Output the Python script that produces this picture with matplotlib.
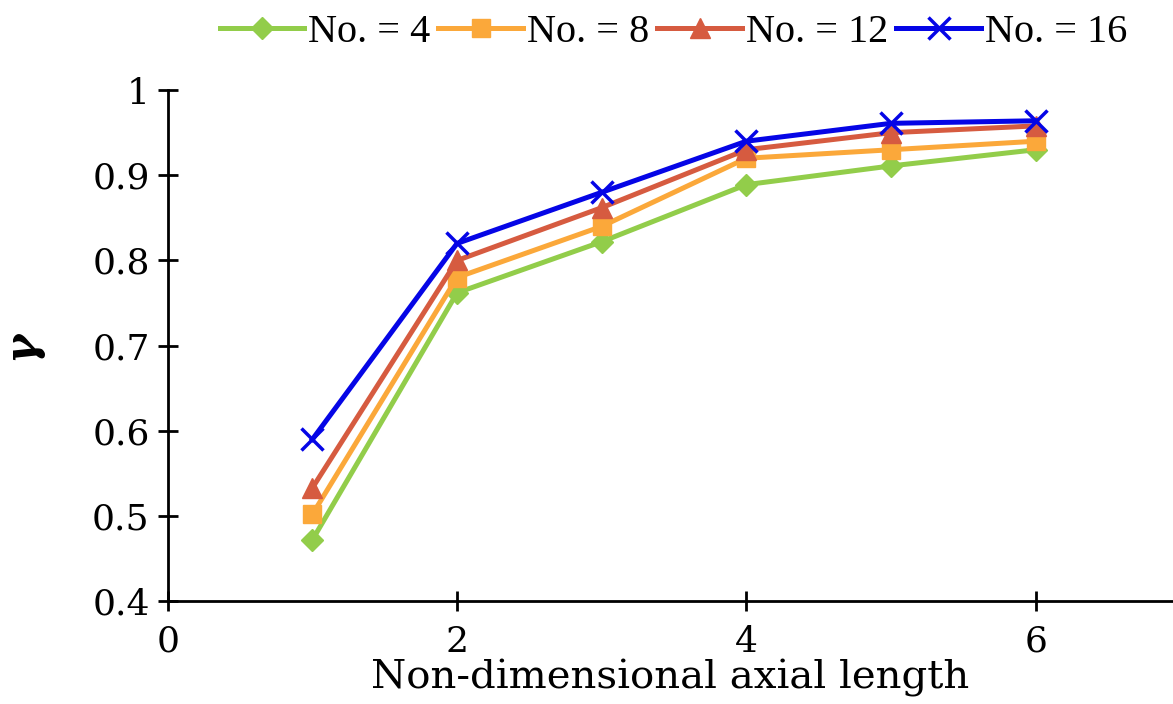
import matplotlib
matplotlib.use("Agg")
import matplotlib.pyplot as plt

# data
x = [1, 2, 3, 4, 5, 6]
labels = ["No. = 4", "No. = 8", "No. = 12", "No. = 16"]
no4 = [0.472, 0.762, 0.822, 0.889, 0.911, 0.930]
no8 = [0.502, 0.780, 0.840, 0.920, 0.930, 0.940]
no12 = [0.533, 0.800, 0.862, 0.930, 0.950, 0.958]
no16 = [0.590, 0.820, 0.880, 0.940, 0.961, 0.964]

colors = ["#92CD4A", "#FBA83A", "#D65B40", "#0505E6"]
markers = ["D", "s", "^", "x"]
msizes = [11, 13, 14, 16]

plt.rcParams["font.family"] = ["DejaVu Serif"]

fig = plt.figure(figsize=(11.73, 7.04), dpi=100)
ax = fig.add_axes([0.143, 0.146, 0.857, 0.726])

series = [no4, no8, no12, no16]
for ys, lab, c, m, ms in zip(series, labels, colors, markers, msizes):
    ax.plot(x, ys, color=c, lw=3.6, marker=m, ms=ms, mew=2.5 if m == "x" else 1,
            mec=c, label=lab)

ax.set_xlim(0, 6.95)
ax.set_ylim(0.4, 1.0)
ax.set_xticks([0, 2, 4, 6])
ax.set_yticks([0.4, 0.5, 0.6, 0.7, 0.8, 0.9, 1.0])
ax.set_yticklabels(["0.4", "0.5", "0.6", "0.7", "0.8", "0.9", "1"])
ax.spines["top"].set_visible(False)
ax.spines["right"].set_visible(False)
ax.spines["left"].set_linewidth(2)
ax.spines["bottom"].set_linewidth(2)
ax.tick_params(direction="inout", length=14, width=2, labelsize=26)
ax.tick_params(axis="x", pad=10)
ax.tick_params(axis="y", pad=6)

ax.set_xlabel("Non-dimensional axial length", fontsize=29, labelpad=0)
ax.set_ylabel("γ", fontsize=32, fontweight="bold", style="italic", labelpad=36)

ax.legend(loc="lower center", bbox_to_anchor=(0.503, 1.045), ncol=4, frameon=False,
          prop={"family": "Liberation Serif", "size": 29},
          handlelength=2.1, handletextpad=0.1, columnspacing=0.2,
          borderaxespad=0)

fig.savefig("out.png", dpi=100)
